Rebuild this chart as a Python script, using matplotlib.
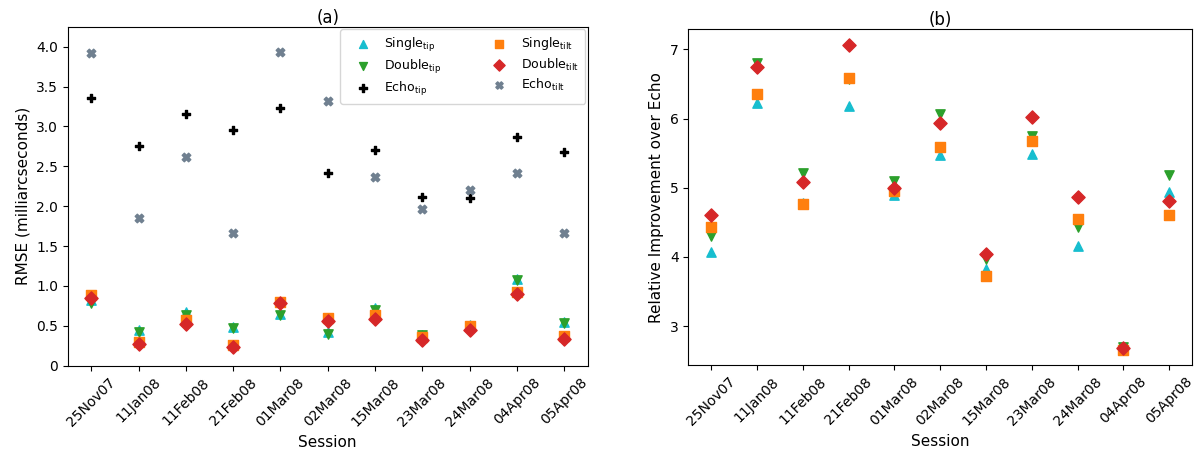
import matplotlib
matplotlib.use("Agg")
import matplotlib.pyplot as plt

sessions = ["25Nov07", "11Jan08", "11Feb08", "21Feb08", "01Mar08", "02Mar08",
            "15Mar08", "23Mar08", "24Mar08", "04Apr08", "05Apr08"]

# (a) RMSE in milliarcseconds
single_tip = [0.82, 0.45, 0.67, 0.48, 0.65, 0.42, 0.72, 0.39, 0.51, 1.09, 0.55]
double_tip = [0.79, 0.42, 0.63, 0.47, 0.64, 0.40, 0.70, 0.38, 0.50, 1.07, 0.53]
echo_tip = [3.36, 2.76, 3.15, 2.95, 3.23, 2.41, 2.71, 2.12, 2.10, 2.87, 2.68]
single_tilt = [0.89, 0.30, 0.57, 0.26, 0.80, 0.60, 0.63, 0.36, 0.50, 0.92, 0.37]
double_tilt = [0.85, 0.27, 0.52, 0.23, 0.78, 0.56, 0.58, 0.32, 0.45, 0.90, 0.34]
echo_tilt = [3.92, 1.85, 2.62, 1.67, 3.93, 3.32, 2.36, 1.97, 2.20, 2.41, 1.66]

# (b) relative improvement over Echo
rel_single_tip = [4.07, 6.22, 4.78, 6.18, 4.89, 5.48, 3.82, 5.49, 4.16, 2.69, 4.94]
rel_double_tip = [4.30, 6.81, 5.22, 6.57, 5.10, 6.06, 3.97, 5.75, 4.44, 2.70, 5.19]
rel_single_tilt = [4.44, 6.35, 4.77, 6.59, 4.96, 5.59, 3.73, 5.67, 4.55, 2.66, 4.61]
rel_double_tilt = [4.60, 6.74, 5.08, 7.07, 5.00, 5.93, 4.04, 6.03, 4.87, 2.68, 4.81]

x = range(len(sessions))
ms = 45

fig = plt.figure(figsize=(11.96, 4.61), dpi=100)
ax1 = fig.add_axes([0.0566, 0.2067, 0.4348, 0.7353])
ax2 = fig.add_axes([0.5755, 0.2083, 0.4212, 0.7281])

ax1.scatter(x, single_tip, s=ms, marker="^", color="tab:cyan", label=r"Single$_{\rm tip}$")
ax1.scatter(x, double_tip, s=ms, marker="v", color="tab:green", label=r"Double$_{\rm tip}$")
ax1.scatter(x, echo_tip, s=38, marker="P", color="black", label=r"Echo$_{\rm tip}$")
ax1.scatter(x, single_tilt, s=ms, marker="s", color="tab:orange", label=r"Single$_{\rm tilt}$")
ax1.scatter(x, double_tilt, s=ms, marker="D", color="tab:red", label=r"Double$_{\rm tilt}$")
ax1.scatter(x, echo_tilt, s=38, marker="X", color="slategray", label=r"Echo$_{\rm tilt}$")
ax1.set_ylim(0, 4.25)
ax1.set_yticks([0, 0.5, 1.0, 1.5, 2.0, 2.5, 3.0, 3.5, 4.0])
ax1.set_yticklabels(["0", "0.5", "1.0", "1.5", "2.0", "2.5", "3.0", "3.5", "4.0"])
ax1.set_xticks(list(x))
ax1.set_xticklabels(sessions, rotation=45)
ax1.set_xlabel("Session", fontsize=11)
ax1.set_ylabel("RMSE (milliarcseconds)", fontsize=11)
ax1.set_title("(a)", pad=2)
ax1.legend(ncol=2, loc="upper right", fontsize=9, borderaxespad=0.2,
           handlelength=2.6, handletextpad=0.45, columnspacing=3.3,
           borderpad=0.5, labelspacing=0.32, markerscale=0.85)

ax2.scatter(x, rel_single_tip, s=ms, marker="^", color="tab:cyan")
ax2.scatter(x, rel_double_tip, s=ms, marker="v", color="tab:green")
ax2.scatter(x, rel_single_tilt, s=ms, marker="s", color="tab:orange")
ax2.scatter(x, rel_double_tilt, s=ms, marker="D", color="tab:red")
ax2.set_xticks(list(x))
ax2.set_xticklabels(sessions, rotation=45)
ax2.set_xlabel("Session", fontsize=11)
ax2.set_ylabel("Relative Improvement over Echo", fontsize=11)
ax2.set_title("(b)", pad=2)

fig.savefig("out.png", dpi=100)
